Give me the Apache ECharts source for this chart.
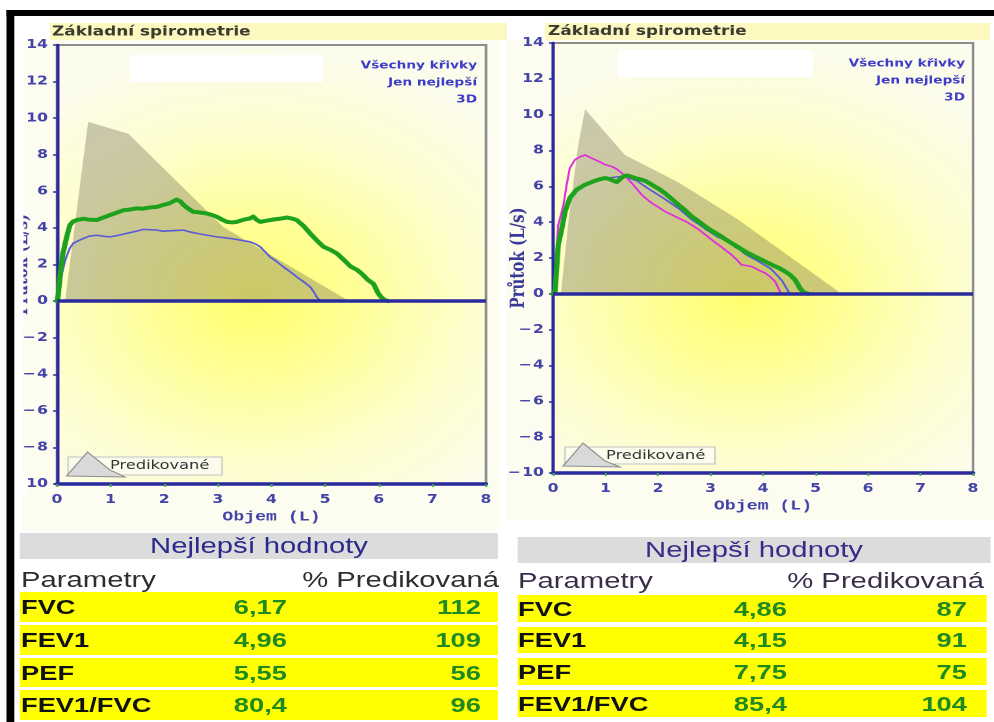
<!DOCTYPE html>
<html>
<head>
<meta charset="utf-8">
<script src="https://cdn.jsdelivr.net/npm/echarts@6/dist/echarts.min.js"></script>
<style>
  html, body { margin: 0; padding: 0; background: #ffffff; overflow: hidden; }
  #page { position: absolute; left: 0; top: 0; width: 994px; height: 722px; overflow: hidden; }
  #wrap { position: absolute; left: 0; top: 0; height: 722px; transform-origin: 0 0; }
  #chart { position: absolute; left: 0; top: 0; height: 722px; }
  .band { position: absolute; }
  .txt { position: absolute; white-space: nowrap; font-family: "Liberation Sans", Arial, sans-serif; font-size: 21px; }
</style>
</head>
<body>
<div id="page">
  <div id="wrap">
    <div id="chart"></div>
    <div id="tables"></div>
  </div>
</div>
<script>
// ---- data -------------------------------------------------------------
const chartTitle = 'Základní spirometrie';
const viewOptions = ['Všechny křivky', 'Jen nejlepší', '3D'];
const predictedLabel = 'Predikované';
const volumeName = 'Objem (L)';
const flowName = 'Průtok (L/s)';
const volumeTicks = { min: 0, max: 8, step: 1 };
const flowTicks = { min: -10, max: 14, step: 2 };

// left panel: predicted envelope, best trial (green), second trial (blue)
const leftPredicted = [[0.15, 0], [0.58, 9.8], [1.33, 9.15], [3.1, 4.05], [5.45, 0]];
const leftGreen = [[0, 0], [0.02, 0.25], [0.06, 1.5], [0.11, 2.6], [0.18, 3.5], [0.24, 4.15], [0.3, 4.35], [0.37, 4.43],
  [0.49, 4.5], [0.6, 4.45], [0.74, 4.43], [0.85, 4.55], [0.99, 4.7], [1.1, 4.82], [1.24, 4.97], [1.35, 5.0],
  [1.49, 5.07], [1.6, 5.05], [1.74, 5.12], [1.86, 5.15], [1.98, 5.25], [2.1, 5.35], [2.23, 5.55], [2.3, 5.45],
  [2.36, 5.25], [2.45, 5.05], [2.54, 4.88], [2.65, 4.85], [2.79, 4.79], [2.9, 4.7], [2.98, 4.61], [3.08, 4.45],
  [3.17, 4.33], [3.27, 4.3], [3.35, 4.33], [3.48, 4.45], [3.6, 4.52], [3.66, 4.62], [3.72, 4.45], [3.79, 4.33],
  [3.92, 4.4], [4.04, 4.46], [4.15, 4.5], [4.29, 4.57], [4.4, 4.5], [4.47, 4.43], [4.6, 4.1], [4.72, 3.7],
  [4.85, 3.3], [4.97, 2.97], [5.1, 2.8], [5.22, 2.6], [5.35, 2.25], [5.47, 1.9], [5.6, 1.7], [5.7, 1.45],
  [5.8, 1.15], [5.9, 0.95], [5.96, 0.6], [5.99, 0.42], [6.05, 0.2], [6.1, 0.08], [6.17, 0]];
const leftBlue = [[0, 0], [0.05, 0.6], [0.1, 1.6], [0.15, 2.2], [0.18, 2.45], [0.24, 2.9], [0.3, 3.15], [0.4, 3.3],
  [0.49, 3.42], [0.6, 3.55], [0.74, 3.6], [0.85, 3.55], [0.99, 3.51], [1.15, 3.6], [1.3, 3.7], [1.45, 3.8],
  [1.61, 3.92], [1.75, 3.9], [1.86, 3.88], [1.98, 3.82], [2.11, 3.84], [2.24, 3.86], [2.36, 3.88], [2.48, 3.78],
  [2.61, 3.7], [2.8, 3.6], [2.98, 3.51], [3.15, 3.45], [3.35, 3.37], [3.48, 3.3], [3.6, 3.24], [3.7, 3.12],
  [3.79, 2.97], [3.88, 2.7], [3.97, 2.42], [4.1, 2.15], [4.22, 1.87], [4.35, 1.6], [4.47, 1.33], [4.6, 1.05],
  [4.72, 0.78], [4.8, 0.45], [4.84, 0.23], [4.9, 0.05], [4.94, 0]];

// right panel: predicted envelope, best trial (green), other trials (blue, magenta)
const rightPredicted = [[0.15, 0], [0.3, 4.2], [0.48, 8.3], [0.61, 10.3], [1.37, 7.75], [2.4, 6.2], [3.5, 4.2], [5.5, 0]];
const rightGreen = [[0, 0], [0.04, 0.15], [0.07, 1.45], [0.1, 2.75], [0.17, 3.67], [0.23, 4.6], [0.32, 5.35], [0.45, 5.81],
  [0.61, 6.09], [0.8, 6.31], [0.9, 6.4], [0.99, 6.46], [1.06, 6.42], [1.12, 6.35], [1.21, 6.24], [1.26, 6.35],
  [1.31, 6.5], [1.4, 6.61], [1.48, 6.55], [1.56, 6.46], [1.65, 6.4], [1.75, 6.31], [1.85, 6.15], [1.94, 5.99],
  [2.04, 5.81], [2.13, 5.62], [2.26, 5.3], [2.39, 4.97], [2.52, 4.65], [2.64, 4.32], [2.77, 4.05], [2.9, 3.76],
  [3.02, 3.52], [3.15, 3.3], [3.28, 3.05], [3.4, 2.83], [3.53, 2.6], [3.66, 2.36], [3.78, 2.18], [3.91, 1.99],
  [4.04, 1.8], [4.17, 1.62], [4.3, 1.45], [4.42, 1.25], [4.52, 1.05], [4.61, 0.78], [4.67, 0.5], [4.7, 0.32],
  [4.77, 0.1], [4.86, 0]];
const rightMagenta = [[0.04, 0], [0.07, 2.6], [0.1, 3.85], [0.15, 4.4], [0.2, 4.97], [0.26, 6.09], [0.32, 7.02], [0.42, 7.49],
  [0.52, 7.65], [0.61, 7.75], [0.7, 7.62], [0.8, 7.49], [0.9, 7.35], [0.99, 7.21], [1.12, 7.11], [1.22, 6.95],
  [1.31, 6.74], [1.4, 6.5], [1.5, 6.18], [1.6, 5.85], [1.69, 5.53], [1.78, 5.3], [1.88, 5.07], [2.0, 4.85],
  [2.13, 4.6], [2.26, 4.42], [2.39, 4.23], [2.52, 4.05], [2.64, 3.85], [2.77, 3.6], [2.9, 3.3], [3.02, 3.02],
  [3.15, 2.74], [3.28, 2.45], [3.4, 2.18], [3.5, 1.9], [3.59, 1.62], [3.68, 1.58], [3.78, 1.53], [3.9, 1.35],
  [4.04, 1.16], [4.14, 0.95], [4.23, 0.69], [4.28, 0.4], [4.32, 0.13], [4.35, 0]];
const rightBlue = [[0.03, 0], [0.06, 1.2], [0.1, 2.6], [0.17, 3.6], [0.23, 4.5], [0.32, 5.3], [0.45, 5.78], [0.61, 6.08],
  [0.8, 6.3], [1.0, 6.45], [1.15, 6.5], [1.3, 6.55], [1.42, 6.5], [1.6, 6.3], [1.8, 5.9], [1.95, 5.62],
  [2.1, 5.35], [2.25, 5.05], [2.4, 4.75], [2.52, 4.45], [2.64, 4.15], [2.77, 3.9], [2.9, 3.62], [3.02, 3.4],
  [3.15, 3.15], [3.25, 3.05], [3.33, 2.95], [3.45, 2.65], [3.56, 2.45], [3.66, 2.22], [3.78, 2.02], [3.91, 1.82],
  [4.02, 1.62], [4.15, 1.4], [4.29, 0.97], [4.37, 0.7], [4.44, 0.35], [4.51, 0]];

// result tables
const tableTitle = 'Nejlepší hodnoty';
const colParam = 'Parametry';
const colPct = '% Predikovaná';
const paramNames = ['FVC', 'FEV1', 'PEF', 'FEV1/FVC'];
const leftMeasured = [6.17, 4.96, 5.55, 80.4];
const leftPercent = [112, 109, 56, 96];
const rightMeasured = [4.86, 4.15, 7.75, 85.4];
const rightPercent = [87, 91, 75, 104];

// ---- layout -----------------------------------------------------------
// the whole sheet is laid out narrow and widened horizontally
const SX = 1.3;
const PAGE_W = 994, PAGE_H = 722;
const INNER_W = PAGE_W / SX;
const X = v => v / SX;   // page x -> inner x

const wrap = document.getElementById('wrap');
wrap.style.width = INNER_W + 'px';
wrap.style.transform = 'scaleX(' + SX + ')';
const chartDom = document.getElementById('chart');
chartDom.style.width = INNER_W + 'px';

const AXIS_BLUE = '#2a2a9e';
const LABEL_BLUE = '#4242a8';
const GREEN = '#1ea21e';

function plotBackground() {
  return new echarts.graphic.RadialGradient(0.46, 0.58, 0.75, [
    { offset: 0, color: '#ffff6c' },
    { offset: 0.3, color: '#ffff96' },
    { offset: 0.65, color: '#fefecc' },
    { offset: 1, color: '#fcfcec' }
  ]);
}

function makeX(gi) {
  return {
    gridIndex: gi, type: 'value',
    min: volumeTicks.min, max: volumeTicks.max, interval: volumeTicks.step,
    name: volumeName, nameLocation: 'middle', nameGap: 26, nameMoveOverlap: false,
    nameTextStyle: { fontFamily: 'Liberation Mono', fontWeight: 'bold', fontSize: 14, color: LABEL_BLUE },
    axisLine: { show: true, onZero: false, lineStyle: { color: AXIS_BLUE, width: 3.5 } },
    axisTick: { show: true, length: 3, lineStyle: { color: '#3cb043', width: 1.5 } },
    axisLabel: { color: LABEL_BLUE, fontFamily: 'DejaVu Sans', fontWeight: 'bold', fontSize: 12, margin: 10 },
    splitLine: { show: false }
  };
}
function makeY(gi) {
  return {
    gridIndex: gi, type: 'value',
    min: flowTicks.min, max: flowTicks.max, interval: flowTicks.step,
    name: flowName, nameLocation: 'middle', nameRotate: 90, nameGap: 19, nameMoveOverlap: false,
    nameTextStyle: { fontFamily: 'DejaVu Serif', fontWeight: 'bold', fontSize: 15, color: '#3a3a9a' },
    axisLine: { show: true, onZero: false, lineStyle: { color: AXIS_BLUE, width: 2.5 } },
    axisTick: { show: true, length: 3, lineStyle: { color: AXIS_BLUE, width: 1.5 } },
    axisLabel: {
      color: LABEL_BLUE, fontFamily: 'DejaVu Sans', fontWeight: 'bold', fontSize: 12, margin: 7,
      formatter: v => String(v).replace('-', '\u2212\u200A')
    },
    splitLine: { show: false }
  };
}

function predictedSeries(gi, data) {
  return {
    type: 'line', xAxisIndex: gi, yAxisIndex: gi, data: data, z: 1,
    showSymbol: false, symbol: 'none', silent: true,
    lineStyle: { width: 0 },
    areaStyle: { color: 'rgba(112,106,84,0.52)', origin: 0 }
  };
}
function curve(gi, data, color, width, z, zeroLine) {
  const s = {
    type: 'line', xAxisIndex: gi, yAxisIndex: gi, data: data, z: z,
    showSymbol: false, symbol: 'none', silent: true,
    lineStyle: { color: color, width: width, join: 'round', cap: 'round' }
  };
  if (zeroLine) {
    s.markLine = {
      silent: true, symbol: ['none', 'none'], label: { show: false },
      lineStyle: { color: AXIS_BLUE, width: 3.5, type: 'solid' },
      data: [{ yAxis: 0 }]
    };
  }
  return s;
}

function text(x, y, str, font, fill, align) {
  return {
    type: 'text', x: x, y: y, z: 20, silent: true,
    style: { text: str, font: font, fill: fill, align: align || 'left', verticalAlign: 'middle' }
  };
}
function rect(x, y, w, h, fill, stroke, z) {
  return {
    type: 'rect', z: z || 20, silent: true,
    shape: { x: x, y: y, width: w, height: h },
    style: stroke ? { fill: fill, stroke: stroke, lineWidth: 1 } : { fill: fill }
  };
}

// frame furniture for one panel; all given in page pixels
function panelGraphics(p) {
  const items = [];
  items.push(rect(X(p.bg[0]), p.bg[1], X(p.bg[2] - p.bg[0]), p.bg[3] - p.bg[1], '#fcfcf0', null, -10));
  items.push(rect(X(p.band[0]), p.band[1], X(p.band[2] - p.band[0]), p.band[3] - p.band[1], '#fcf8c0', null, 5));
  items.push(text(X(p.title[0]), p.title[1], chartTitle, 'bold 13px "DejaVu Sans"', '#3a3a2e'));
  items.push(rect(X(p.blank[0]), p.blank[1], X(p.blank[2] - p.blank[0]), p.blank[3] - p.blank[1], '#ffffff', null, 15));
  viewOptions.forEach((t, i) => {
    items.push(text(X(p.opts[0]), p.opts[1] + i * 17, t, 'bold 10.5px "DejaVu Sans"', '#3c3cc8', 'right'));
  });
  items.push(rect(X(p.leg[0]), p.leg[1], X(p.leg[2] - p.leg[0]), p.leg[3] - p.leg[1], '#fbfbee', '#c4c4c4', 18));
  items.push({
    type: 'polygon', z: 19, silent: true,
    shape: { points: p.tri.map(q => [X(q[0]), q[1]]) },
    style: { fill: '#d9d9d9', stroke: '#8c8c8c', lineWidth: 1 }
  });
  items.push(text(X(p.legText[0]), p.legText[1], predictedLabel, '12.5px "DejaVu Sans"', '#333333'));
  return items;
}

const graphics = [].concat(
  panelGraphics({
    bg: [14, 40, 500, 530], band: [50, 23, 507, 40], title: [52, 32], blank: [130, 55, 323, 82],
    opts: [477, 66], leg: [68, 457, 222, 475],
    tri: [[66.5, 476], [87.5, 452], [110, 470], [125, 477]], legText: [110, 465.5]
  }),
  panelGraphics({
    bg: [507, 40, 994, 520], band: [545, 23, 990, 40], title: [548, 31.5], blank: [618, 50, 813, 77],
    opts: [965, 64], leg: [565, 447, 715, 464],
    tri: [[563, 466], [583, 443], [605, 461], [620, 467]], legText: [606, 455.5]
  })
);

const gridCommon = { show: true, borderColor: '#8d8d8d', borderWidth: 2, containLabel: false, outerBoundsMode: 'none' };

const option = {
  animation: false,
  backgroundColor: '#ffffff',
  grid: [
    Object.assign({ left: X(57), top: 45, width: X(486 - 57), height: 439, backgroundColor: plotBackground() }, gridCommon),
    Object.assign({ left: X(553), top: 43, width: X(973 - 553), height: 430, backgroundColor: plotBackground() }, gridCommon)
  ],
  xAxis: [makeX(0), makeX(1)],
  yAxis: [makeY(0), makeY(1)],
  series: [
    predictedSeries(0, leftPredicted),
    curve(0, leftBlue, '#5a5ad6', 1.6, 3, false),
    curve(0, leftGreen, GREEN, 4, 4, true),
    predictedSeries(1, rightPredicted),
    curve(1, rightBlue, '#5a5ad6', 1.6, 3, false),
    curve(1, rightMagenta, '#e02ce0', 1.6, 3, false),
    curve(1, rightGreen, GREEN, 4, 4, true)
  ],
  graphic: { elements: graphics }
};

const chart = echarts.init(chartDom, null, { renderer: 'canvas', devicePixelRatio: 2 });
chart.setOption(option);

// ---- tables ------------------------------------------------------------
const tables = document.getElementById('tables');
function el(cls, css, html) {
  const d = document.createElement('div');
  d.className = cls;
  Object.assign(d.style, css);
  if (html !== undefined) d.textContent = html;
  tables.appendChild(d);
  return d;
}
const fmt = (v, i) => (i === 3 ? v.toFixed(1) : v.toFixed(2)).replace('.', ',');

function buildTable(t, measured, percent) {
  const L = X(t.x0), W = X(t.x1 - t.x0);
  el('band', { left: L + 'px', top: t.head[0] + 'px', width: W + 'px', height: (t.head[1] - t.head[0]) + 'px', background: '#dcdcdc' });
  el('txt', { left: L + 'px', width: W + 'px', textAlign: 'center', top: t.head[0] + 'px', fontSize: '22.5px',
    lineHeight: (t.head[1] - t.head[0]) + 'px', color: t.headColor }, tableTitle);
  el('txt', { left: X(t.labelX) + 'px', top: (t.colY - 12) + 'px', lineHeight: '24px', fontSize: '22.5px', color: t.colColor }, colParam);
  el('txt', { left: L + 'px', width: (X(t.pctHeadR) - L) + 'px', textAlign: 'right', top: (t.colY - 12) + 'px',
    lineHeight: '24px', fontSize: '22.5px', color: t.colColor }, colPct);
  paramNames.forEach((name, i) => {
    const r = t.rows[i], h = r[1] - r[0];
    el('band', { left: L + 'px', top: r[0] + 'px', width: (X(t.x1r) - L) + 'px', height: h + 'px', background: '#ffff00' });
    const common = { top: r[0] + 'px', lineHeight: h + 'px', fontWeight: 'bold' };
    el('txt', Object.assign({ left: X(t.labelX) + 'px', color: '#111111' }, common), name);
    el('txt', Object.assign({ left: L + 'px', width: (X(t.valR) - L) + 'px', textAlign: 'right', color: '#1f8a1f' }, common), fmt(measured[i], i));
    el('txt', Object.assign({ left: L + 'px', width: (X(t.pctR) - L) + 'px', textAlign: 'right', color: '#1f8a1f' }, common), String(percent[i]));
  });
}

buildTable({
  x0: 20, x1: 498, x1r: 498, head: [533, 559], headColor: '#2a2a8c', labelX: 21, colY: 580, colColor: '#2e2e2e',
  pctHeadR: 499, rows: [[592, 622], [625, 655], [658, 687], [690, 720]], valR: 287, pctR: 481
}, leftMeasured, leftPercent);
buildTable({
  x0: 518, x1: 990, x1r: 987, head: [537, 563], headColor: '#3a2a8a', labelX: 518, colY: 581, colColor: '#3a2e4a',
  pctHeadR: 984, rows: [[595, 622], [627, 653], [658, 685], [690, 717]], valR: 787, pctR: 967
}, rightMeasured, rightPercent);

// ---- sheet frame -------------------------------------------------------
el('band', { left: X(7) + 'px', top: '10px', width: (INNER_W - X(7)) + 'px', height: '6px', background: '#000000', zIndex: 10 });
el('band', { left: X(7) + 'px', top: '10px', width: X(7) + 'px', height: '712px', background: '#000000', zIndex: 10 });
// left margin of the first panel is cut off: axis title and the sign of the lowest label fall outside
el('band', { left: X(14) + 'px', top: '16px', width: X(10) + 'px', height: '314px', background: '#ffffff', zIndex: 9 });
el('band', { left: X(14) + 'px', top: '330px', width: X(7.5) + 'px', height: '200px', background: '#ffffff', zIndex: 9 });
el('band', { left: X(14) + 'px', top: '474px', width: X(13) + 'px', height: '20px', background: '#ffffff', zIndex: 9 });
</script>
</body>
</html>
